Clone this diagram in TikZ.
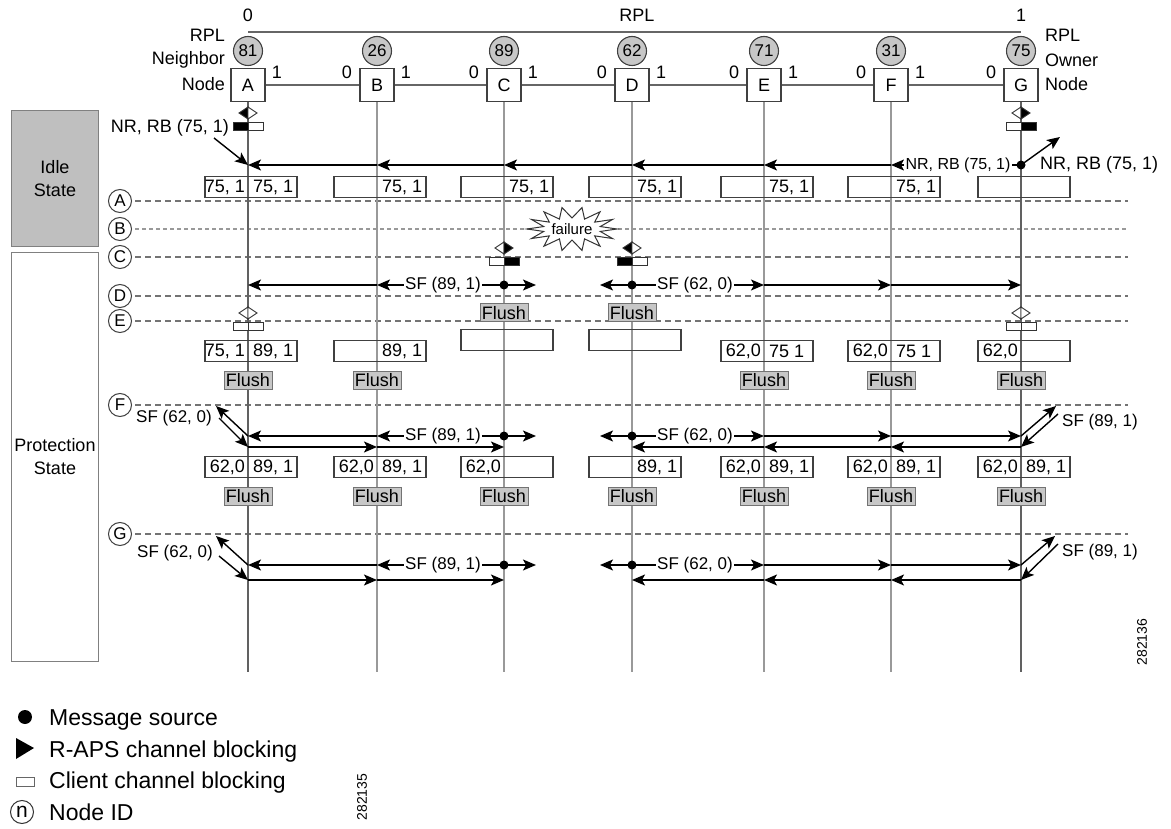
\documentclass[tikz,border=0pt]{standalone}
\usepackage{fontspec}
\setmainfont{Liberation Sans}
\usetikzlibrary{arrows.meta,calc}
\newcommand\fsz[1]{\fontsize{#1}{#1}\selectfont}
\newcommand\blk[6]{%
 \path (#1 |- 0,#2) coordinate (blkc);
 \begin{scope}[shift={(blkc)}]
  \filldraw[draw=black!80, line width=0.9pt, fill=#3] (0,-6) -- (-9,0) -- (0,6) -- cycle;
  \filldraw[draw=black!80, line width=0.9pt, fill=#4] (0,-6) -- (9,0) -- (0,6) -- cycle;
  \filldraw[draw=black!80, line width=0.9pt, fill=#5] (-15,9) rectangle (0,17);
  \filldraw[draw=black!80, line width=0.9pt, fill=#6] (0,9) rectangle (15,17);
 \end{scope}}
\newcommand\tb[4]{%
 \path (#1 |- 0,#2) coordinate (tbc);
 \node[tbl] at ($(tbc)+(3,0)$) {};
 \node[lbl, anchor=east] at ($(tbc)+(-3,0)$) {#3};
 \node[lbl, anchor=west] at ($(tbc)+(5,0)$) {#4};}
\newcommand\fl[2]{\node[flush] at (#1 |- 0,#2) {Flush};}
\begin{document}
\begin{tikzpicture}[x=1pt,y=-1pt,
  lbl/.style={inner sep=0pt, font=\fsz{18}},
  nodebox/.style={draw=black!75, line width=1.1pt, fill=white, minimum width=34pt, minimum height=33pt, inner sep=0pt, font=\fsz{18}},
  idcirc/.style={circle, draw=black!75, line width=1.1pt, fill=black!22, minimum size=29pt, inner sep=0pt, font=\fsz{17}},
  rowcirc/.style={circle, draw=black!75, line width=1pt, minimum size=23pt, inner sep=0pt, font=\fsz{17}},
  tbl/.style={draw=black!75, line width=1.1pt, minimum width=92pt, minimum height=21pt, inner sep=0pt},
  flush/.style={draw=black!55, line width=1pt, fill=black!22, minimum width=48pt, minimum height=18pt, inner sep=0pt, font=\fsz{18}},
  msg/.style={draw=black, line width=1.4pt, -{Stealth[length=13pt,width=11pt,inset=3pt]}},
  link/.style={draw=black!60, line width=1.1pt},
  dashrow/.style={draw=black!55, line width=1.1pt, dash pattern=on 6pt off 4pt},
  dotrow/.style={draw=black!40, line width=1.3pt, dash pattern=on 4pt off 3pt},
  vline/.style={draw=black!40, line width=2.2pt},
  vlineo/.style={draw=black!62, line width=1.2pt},
  panel/.style={draw=black!50, line width=1pt, inner sep=0pt, align=center, font=\fontsize{18}{23}\selectfont},
  sflbl/.style={inner sep=1.5pt, fill=white, font=\fsz{17}},
  msgdot/.style={fill=black},
]
\useasboundingbox (0,0) rectangle (1171,829);

% left panels
\node[panel, fill=black!25, minimum width=87pt, minimum height=136pt, anchor=north west] (idle) at (11,110) {Idle\\State};
\node[panel, fill=white, minimum width=87pt, minimum height=409pt, anchor=north west] (prot) at (11,252) {Protection\\State};

% nodes
\foreach \n/\x/\id in {A/248/81,B/377/26,C/504/89,D/632/62,E/764/71,F/891/31,G/1021/75} {
  \node[nodebox] (\n) at (\x,85) {\n};
  \node[idcirc] (id\n) at (\x,51) {\id};
}
\foreach \s/\t in {A/B,B/C,C/D,D/E,E/F,F/G} \draw[link] (\s.east) -- (\t.west);
\foreach \n in {B,C,D,E,F,G} \node[lbl] at ($(\n)+(-30,-13)$) {0};
\foreach \n in {A,B,C,D,E,F} \node[lbl] at ($(\n)+(29,-13)$) {1};

% RPL
\coordinate (rplA) at (A |- 0,32);
\coordinate (rplG) at (G |- 0,32);
\draw[link] (rplA) -- (rplG);
\node[lbl] at (248,15) {0};
\node[lbl] at (1021,15) {1};
\node[lbl] at (637,15) {RPL};
\node[lbl, anchor=east] at (225,35) {RPL};
\node[lbl, anchor=east] at (225,60) {Neighbor};
\node[lbl, anchor=east] at (225,84) {Node};
\node[lbl, anchor=west] at (1045,35) {RPL};
\node[lbl, anchor=west] at (1045,60) {Owner};
\node[lbl, anchor=west] at (1045,84) {Node};

% row markers and dashed lines
\foreach \l/\y/\st in {A/201/dashrow,B/229/dotrow,C/257/dashrow,D/296/dashrow,E/321/dashrow,F/405/dashrow,G/534/dashrow} {
  \node[rowcirc] (r\l) at (120,\y) {\l};
  \draw[\st] (r\l.east) ++(3,0) -- (1128,\y);
}

% vertical lines
\foreach \n in {B,C,D,E,F} \draw[vline] (\n.south) -- (\n |- 0,672);
\foreach \n in {A,G} \draw[vlineo] (\n.south) -- (\n |- 0,672);

% tables
\tb{A}{187}{75, 1}{75, 1}
\foreach \n in {B,C,D,E,F} {\tb{\n}{187}{}{75, 1}}
\tb{G}{187}{}{}

\tb{A}{351}{75, 1}{89, 1}
\tb{B}{351}{}{89, 1}
\tb{C}{340}{}{}
\tb{D}{340}{}{}
\tb{E}{351}{62,0}{75 1}
\tb{F}{351}{62,0}{75 1}
\tb{G}{351}{62,0}{}

\tb{A}{467}{62,0}{89, 1}
\tb{B}{467}{62,0}{89, 1}
\tb{C}{467}{62,0}{}
\tb{D}{467}{}{89, 1}
\tb{E}{467}{62,0}{89, 1}
\tb{F}{467}{62,0}{89, 1}
\tb{G}{467}{62,0}{89, 1}

% flush
\fl{C}{313}
\fl{D}{313}
\foreach \n in {A,B,E,F,G} {\fl{\n}{380}}
\foreach \n in {A,B,C,D,E,F,G} {\fl{\n}{496}}

% failure
\coordinate (fail) at (572,229);
\begin{scope}[shift={(fail)}]
\draw[black!80, line width=1pt, fill=white] (45,0) \foreach \i in {1,...,27} { -- ({(isodd(\i) ? 29 : 45)*cos(\i*360/28)},{(isodd(\i) ? 11 : 22)*sin(\i*360/28)}) } -- cycle;
\end{scope}
\node[inner sep=0pt, font=\fsz{15}] at (fail) {failure};

% idle state messages
\coordinate (yI) at (0,165);
\foreach \s/\t in {G/F,F/E,E/D,D/C,C/B,B/A} \draw[msg] (\s |- yI) -- (\t |- yI);
\fill[msgdot] (G |- yI) circle (4.5pt);
\node[sflbl, font=\fsz{16}] at (958,165) {NR, RB (75, 1)};
\coordinate (gI) at (1060,137);
\draw[msg] (G |- yI) -- (gI);
\node[lbl, anchor=west] at (1040,165) {NR, RB (75, 1)};
\node[lbl, anchor=east] (nrA) at (229,128) {NR, RB (75, 1)};
\coordinate (aI) at (214,138);
\draw[msg] (aI) -- (A |- yI);

% row D messages
\coordinate (yD) at (0,285);
\draw[msg] (C|-yD) -- (B|-yD);
\draw[msg] (B|-yD) -- (A|-yD);
\draw[msg] (C|-yD) -- ++(32,0);
\draw[msg] (D|-yD) -- ++(-32,0);
\draw[msg] (D|-yD) -- (E|-yD);
\draw[msg] (E|-yD) -- (F|-yD);
\draw[msg] (F|-yD) -- (G|-yD);
\fill[msgdot] (C|-yD) circle (4.5pt);
\fill[msgdot] (D|-yD) circle (4.5pt);
\node[sflbl] at (443,285) {SF (89, 1)};
\node[sflbl] at (695,285) {SF (62, 0)};

% rows F and G messages
\foreach \u/\l in {436/447,565/580} {
  \draw[msg] (C|-0,\u) -- (B|-0,\u);
  \draw[msg] (B|-0,\u) -- (A|-0,\u);
  \draw[msg] (C|-0,\u) -- ++(32,0);
  \draw[msg] (D|-0,\u) -- ++(-32,0);
  \draw[msg] (D|-0,\u) -- (E|-0,\u);
  \draw[msg] (E|-0,\u) -- (F|-0,\u);
  \draw[msg] (F|-0,\u) -- (G|-0,\u);
  \draw[msg] (A|-0,\l) -- (B|-0,\l);
  \draw[msg] (B|-0,\l) -- (C|-0,\l);
  \draw[msg] (G|-0,\l) -- (F|-0,\l);
  \draw[msg] (F|-0,\l) -- (E|-0,\l);
  \draw[msg] (E|-0,\l) -- (D|-0,\l);
  \fill[msgdot] (C|-0,\u) circle (4.5pt);
  \fill[msgdot] (D|-0,\u) circle (4.5pt);
  \node[sflbl] at (443,\u) {SF (89, 1)};
  \node[sflbl] at (695,\u) {SF (62, 0)};
}
\draw[msg] (A|-0,436) -- (216,406);
\draw[msg] (219,418) -- (A|-0,447);
\draw[msg] (G|-0,436) -- (1056,406);
\draw[msg] (1058,414) -- (G|-0,447);
\draw[msg] (A|-0,565) -- (216,536);
\draw[msg] (219,556) -- (A|-0,580);
\draw[msg] (G|-0,565) -- (1055,536);
\draw[msg] (1058,544) -- (G|-0,580);
\node[inner sep=0pt, font=\fsz{17}] at (174,418) {SF (62, 0)};
\node[inner sep=0pt, font=\fsz{17}] at (175,553) {SF (62, 0)};
\node[inner sep=0pt, font=\fsz{17}, anchor=west] at (1062,422) {SF (89, 1)};
\node[inner sep=0pt, font=\fsz{17}, anchor=west] at (1062,552) {SF (89, 1)};

% blocking symbols
\blk{A}{113}{black}{white}{black}{white}
\blk{G}{113}{white}{black}{white}{black}
\blk{C}{248}{white}{black}{white}{black}
\blk{D}{248}{black}{white}{black}{white}
\blk{A}{313}{white}{white}{white}{white}
\blk{G}{313}{white}{white}{white}{white}

% legend
\fill (25,717) circle (7pt);
\fill (16,738) -- (34,748) -- (16,759) -- cycle;
\draw[black!60, line width=1pt] (16,777) rectangle (34,786);
\node[circle, draw=black!80, line width=1pt, minimum size=23pt, inner sep=0pt, font=\fsz{21}] (legn) at (22,812) {n};
\node[inner sep=0pt, anchor=base west, font=\fsz{23}] at (49,725) {Message source};
\node[inner sep=0pt, anchor=base west, font=\fsz{23}] at (49,757) {R-APS channel blocking};
\node[inner sep=0pt, anchor=base west, font=\fsz{23}] at (49,788) {Client channel blocking};
\node[inner sep=0pt, anchor=base west, font=\fsz{23}] at (49,820) {Node ID};
\node[inner sep=0pt, rotate=90, font=\fsz{14}] at (362,797) {282135};
\node[inner sep=0pt, rotate=90, font=\fsz{14}] at (1142,642) {282136};
\end{tikzpicture}
\end{document}
